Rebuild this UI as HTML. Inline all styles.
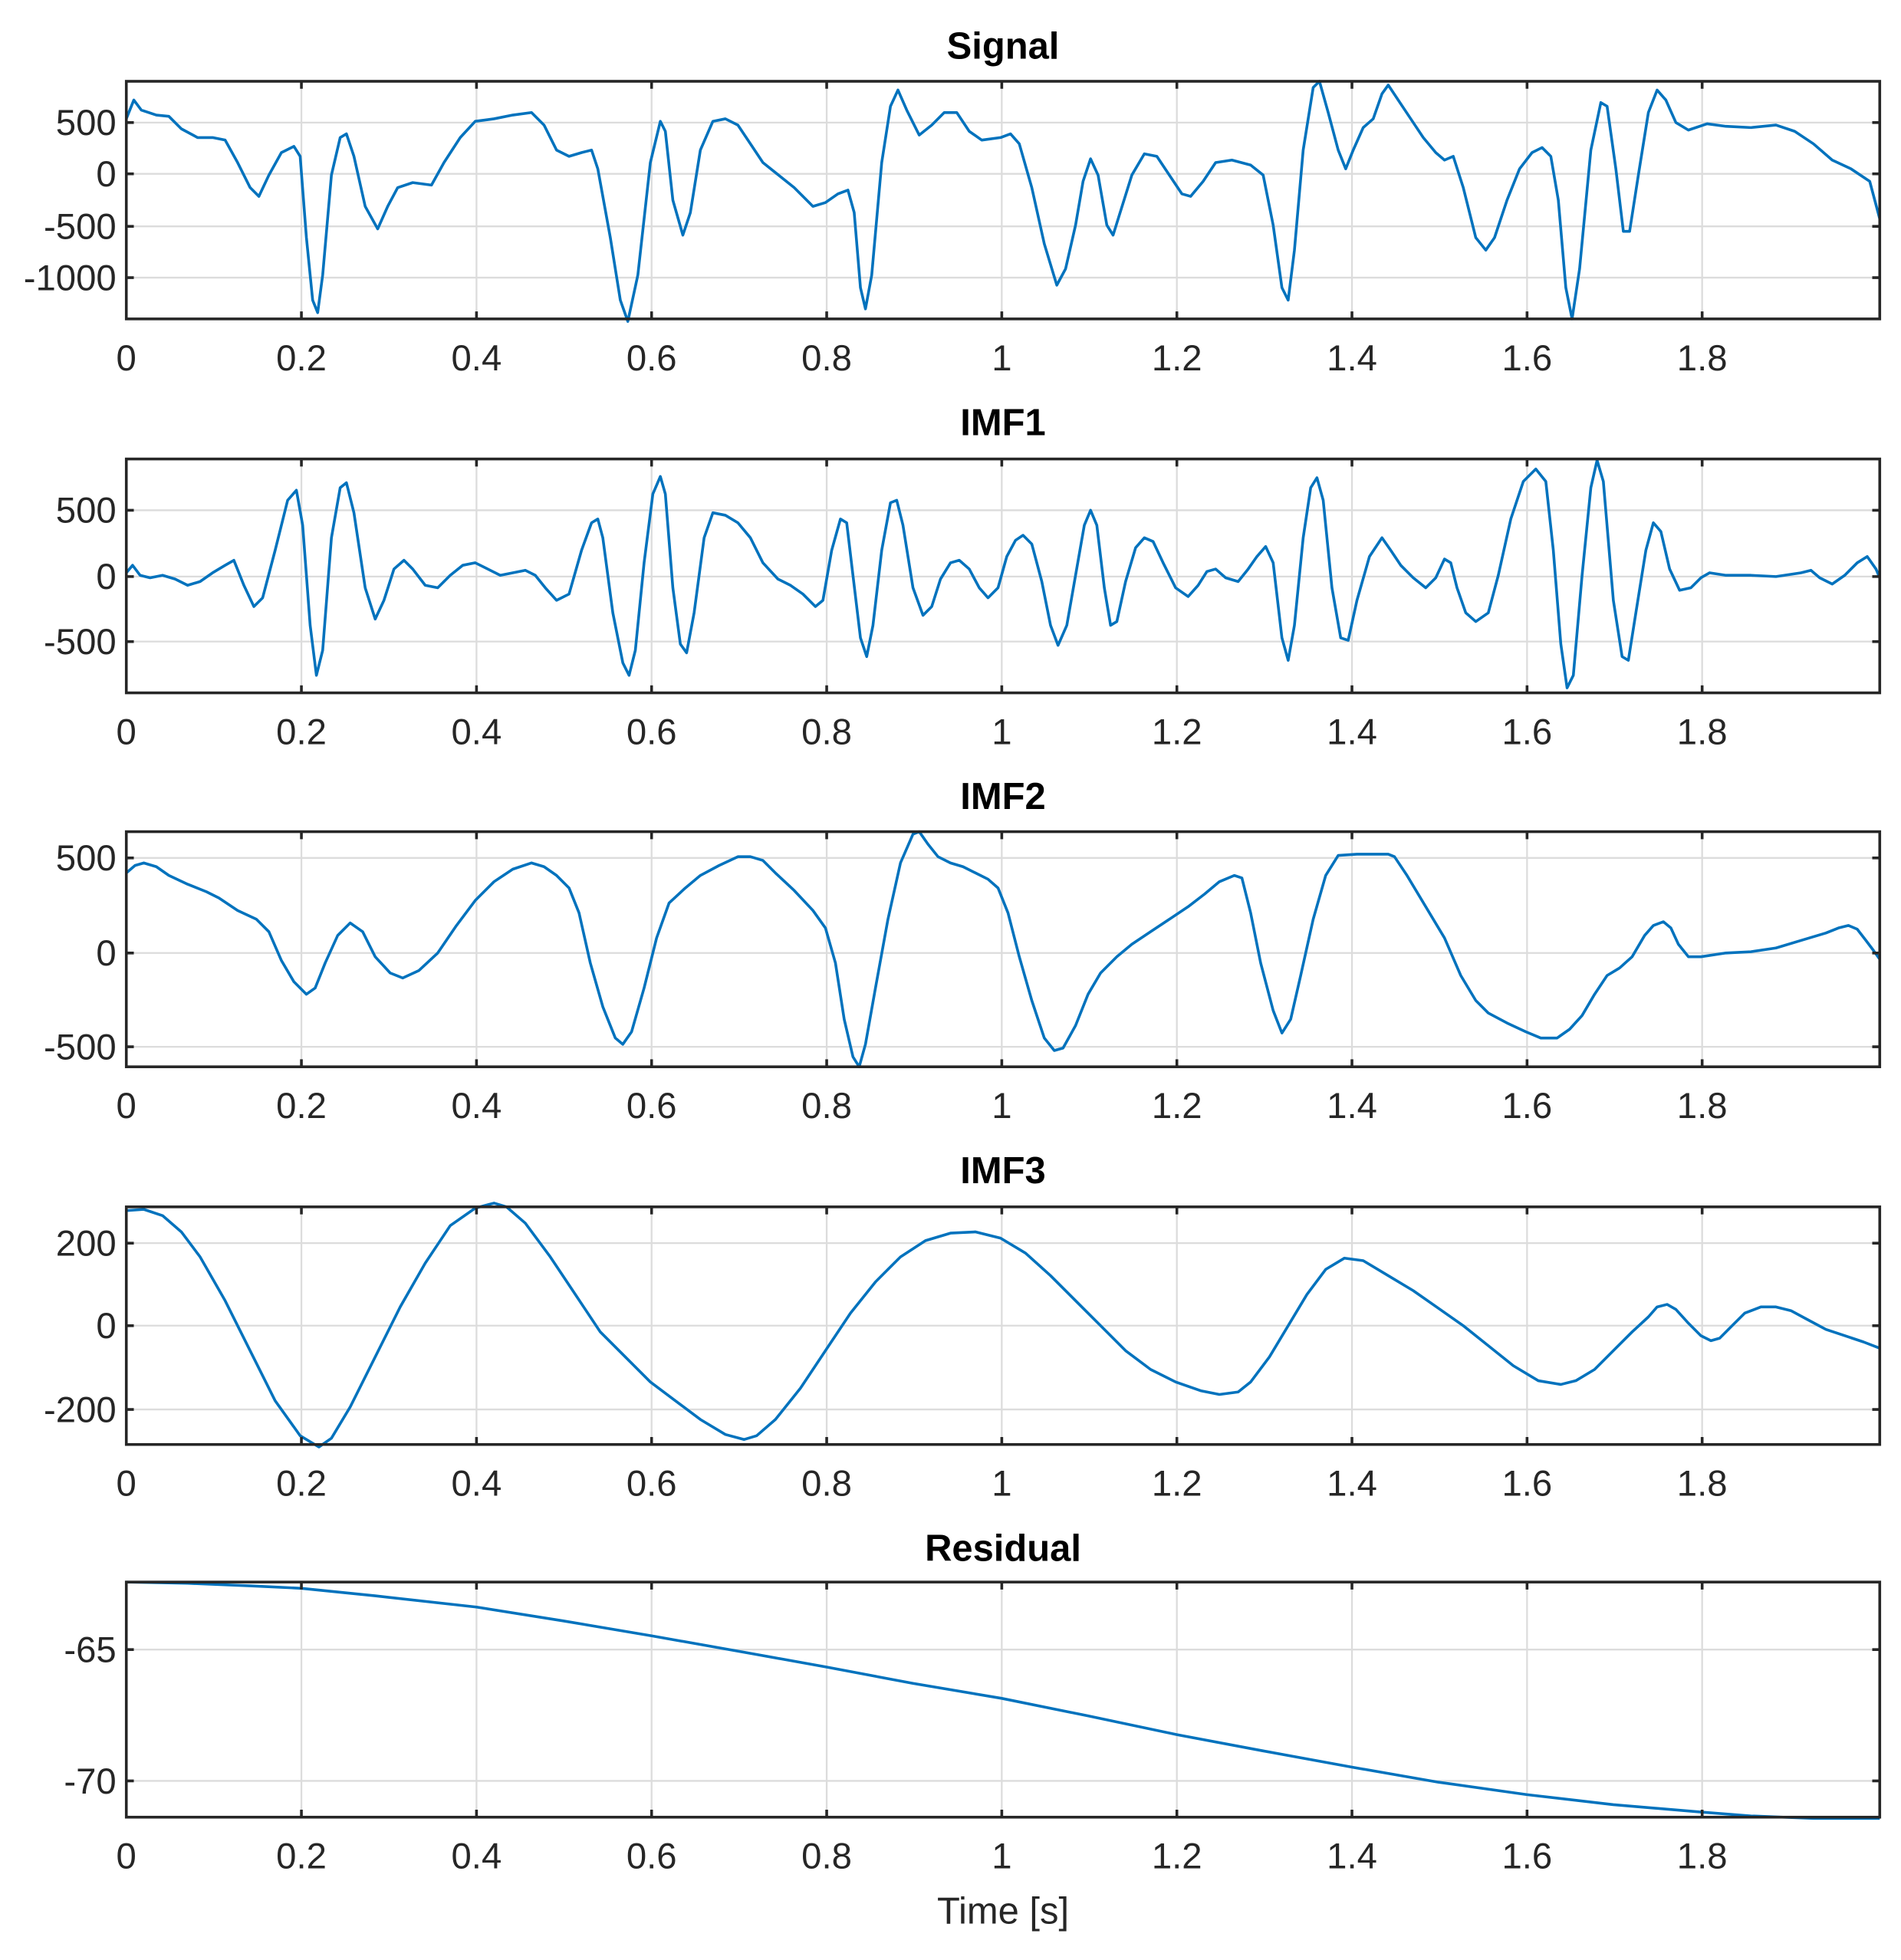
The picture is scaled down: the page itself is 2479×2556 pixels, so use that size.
<!DOCTYPE html>
<html><head><meta charset="utf-8"><style>
html,body{margin:0;padding:0;background:#fff;}
svg{display:block;}
text{font-family:"Liberation Sans",Arial,sans-serif;fill:#262626;}
.t{font-size:29px;}
.ti{font-size:30px;font-weight:bold;fill:#000;}
.g{stroke:#dcdcdc;stroke-width:1.4;fill:none;}
.ax{stroke:#262626;stroke-width:2.2;fill:none;}
.d{stroke:#0072BD;stroke-width:2.2;fill:none;stroke-linejoin:round;}
</style></head><body>
<svg width="2479" height="2556" viewBox="0 0 1520 1567.2" preserveAspectRatio="none" xmlns="http://www.w3.org/2000/svg">
<defs>
<g id="vg">
<path class="g" d="M241 0V1M381 0V1M521 0V1M661 0V1M801 0V1M941 0V1M1081 0V1M1221 0V1M1361 0V1"/>
</g>
</defs>

<!-- Panel 1 Signal -->
<text class="ti" x="802" y="47" text-anchor="middle">Signal</text>
<path class="g" d="M241 65V255M381 65V255M521 65V255M661 65V255M801 65V255M941 65V255M1081 65V255M1221 65V255M1361 65V255M101 98H1503M101 139H1503M101 181H1503M101 222H1503"/>
<polyline class="d" points="101,95 107,80 113,88 125,92 135,93 145,103 158,110 170,110 180,112 190,130 200,150 207,157 215,140 225,122 235,117 240,125 245,190 250,240 254,250 258,220 265,140 272,110 277,107 283,125 292,165 302,183 310,165 318,150 330,146 345,148 355,130 368,110 380,97 395,95 410,92 425,90 435,100 445,120 455,125 465,122 473,120 478,135 488,190 496,240 502,257 510,220 520,130 528,97 532,105 538,160 546,188 552,170 560,120 570,97 580,95 590,100 600,115 610,130 620,138 635,150 650,165 660,162 670,155 678,152 683,170 688,230 692,247 697,220 705,130 712,85 718,72 725,88 735,108 745,100 755,90 765,90 775,105 785,112 800,110 808,107 815,115 825,150 835,195 845,228 852,215 860,180 866,145 872,127 878,140 885,180 890,188 895,172 905,140 915,123 925,125 935,140 945,155 952,157 962,145 972,130 985,128 1000,132 1010,140 1018,180 1025,230 1030,240 1035,200 1042,120 1050,70 1055,65 1062,90 1070,120 1076,135 1082,120 1090,102 1098,95 1105,75 1110,68 1118,80 1128,95 1138,110 1148,122 1155,128 1162,125 1170,150 1180,190 1188,200 1195,190 1205,160 1215,135 1225,122 1233,118 1240,125 1246,160 1252,230 1257,255 1263,215 1272,120 1280,82 1285,85 1292,135 1298,185 1303,185 1310,140 1318,90 1325,72 1332,80 1340,98 1350,104 1365,99 1380,101 1400,102 1420,100 1435,105 1450,115 1465,128 1480,135 1495,145 1503,175"/>
<rect class="ax" x="101" y="65" width="1402" height="190"/>
<path class="ax" d="M241 65v6M381 65v6M521 65v6M661 65v6M801 65v6M941 65v6M1081 65v6M1221 65v6M1361 65v6M241 255v-6M381 255v-6M521 255v-6M661 255v-6M801 255v-6M941 255v-6M1081 255v-6M1221 255v-6M1361 255v-6M101 98h6M101 139h6M101 181h6M101 222h6M1503 98h-6M1503 139h-6M1503 181h-6M1503 222h-6"/>
<g class="t" text-anchor="end"><text x="93" y="108">500</text><text x="93" y="149">0</text><text x="93" y="191">-500</text><text x="93" y="232">-1000</text></g>
<g class="t" text-anchor="middle"><text x="101" y="296">0</text><text x="241" y="296">0.2</text><text x="381" y="296">0.4</text><text x="521" y="296">0.6</text><text x="661" y="296">0.8</text><text x="801" y="296">1</text><text x="941" y="296">1.2</text><text x="1081" y="296">1.4</text><text x="1221" y="296">1.6</text><text x="1361" y="296">1.8</text></g>

<!-- Panel 2 IMF1 -->
<text class="ti" x="802" y="348" text-anchor="middle">IMF1</text>
<path class="g" d="M241 367V554M381 367V554M521 367V554M661 367V554M801 367V554M941 367V554M1081 367V554M1221 367V554M1361 367V554M101 408H1503M101 461H1503M101 513H1503"/>
<polyline class="d" points="101,458 106,452 112,460 120,462 130,460 140,463 150,468 160,465 170,458 180,452 187,448 195,468 203,485 210,478 220,440 230,400 237,392 242,420 248,500 253,540 258,520 265,430 272,390 277,386 283,410 292,470 300,495 307,480 315,455 323,448 330,455 340,468 350,470 360,460 370,452 380,450 390,455 400,460 410,458 420,456 428,460 436,470 445,480 455,475 465,440 473,418 478,415 482,430 490,490 498,530 503,540 508,520 515,450 522,395 528,381 532,395 538,470 544,515 549,522 555,490 563,430 570,410 580,412 590,418 600,430 610,450 622,463 632,468 642,475 652,485 658,480 665,440 672,415 677,418 682,460 688,510 693,525 698,500 705,440 712,402 717,400 722,420 730,470 738,492 745,485 752,463 760,450 767,448 775,455 783,470 790,478 798,470 805,445 812,432 818,428 825,435 833,465 840,500 846,516 853,500 860,460 867,420 872,408 877,420 883,470 888,500 893,497 900,465 908,438 915,430 922,433 930,450 940,470 950,477 958,468 965,457 972,455 980,462 990,465 998,455 1005,445 1012,437 1018,450 1025,510 1030,528 1035,500 1042,430 1048,390 1053,382 1058,400 1065,470 1072,510 1078,512 1085,480 1095,445 1105,430 1112,440 1120,452 1130,462 1140,470 1148,462 1155,447 1160,450 1165,470 1172,490 1180,497 1190,490 1198,460 1208,415 1218,385 1228,375 1236,385 1242,440 1248,515 1253,550 1258,540 1265,460 1272,390 1277,368 1282,385 1290,480 1297,525 1302,528 1308,490 1316,440 1322,418 1328,425 1335,455 1343,472 1352,470 1360,462 1367,458 1380,460 1400,460 1420,461 1440,458 1448,456 1455,462 1465,467 1475,460 1485,450 1493,445 1500,455 1503,462"/>
<rect class="ax" x="101" y="367" width="1402" height="187"/>
<path class="ax" d="M241 367v6M381 367v6M521 367v6M661 367v6M801 367v6M941 367v6M1081 367v6M1221 367v6M1361 367v6M241 554v-6M381 554v-6M521 554v-6M661 554v-6M801 554v-6M941 554v-6M1081 554v-6M1221 554v-6M1361 554v-6M101 408h6M101 461h6M101 513h6M1503 408h-6M1503 461h-6M1503 513h-6"/>
<g class="t" text-anchor="end"><text x="93" y="418">500</text><text x="93" y="471">0</text><text x="93" y="523">-500</text></g>
<g class="t" text-anchor="middle"><text x="101" y="595">0</text><text x="241" y="595">0.2</text><text x="381" y="595">0.4</text><text x="521" y="595">0.6</text><text x="661" y="595">0.8</text><text x="801" y="595">1</text><text x="941" y="595">1.2</text><text x="1081" y="595">1.4</text><text x="1221" y="595">1.6</text><text x="1361" y="595">1.8</text></g>

<!-- Panel 3 IMF2 -->
<text class="ti" x="802" y="647" text-anchor="middle">IMF2</text>
<path class="g" d="M241 665V853M381 665V853M521 665V853M661 665V853M801 665V853M941 665V853M1081 665V853M1221 665V853M1361 665V853M101 686H1503M101 762H1503M101 837H1503"/>
<polyline class="d" points="101,698 108,692 115,690 125,693 135,700 150,707 165,713 175,718 190,728 205,735 215,745 225,768 235,785 245,795 252,790 260,770 270,748 280,738 290,745 300,765 312,778 322,782 335,776 350,762 365,740 380,720 395,705 410,695 425,690 435,693 445,700 455,710 463,730 472,770 482,805 492,830 498,835 505,825 515,790 525,750 535,722 548,710 560,700 575,692 590,685 600,685 610,688 620,698 635,712 650,728 660,742 668,770 675,815 682,845 687,853 692,835 700,790 710,735 720,690 730,667 735,665 742,675 750,685 760,690 770,693 780,698 790,703 798,710 806,730 815,765 825,800 835,830 843,840 850,838 860,820 870,795 880,778 893,765 905,755 920,745 935,735 950,725 963,715 975,705 987,700 993,702 1000,730 1008,770 1018,808 1025,826 1032,815 1040,780 1050,735 1060,700 1070,684 1085,683 1100,683 1110,683 1115,685 1125,700 1140,725 1155,750 1168,780 1180,800 1190,810 1205,818 1220,825 1232,830 1245,830 1255,823 1265,812 1275,795 1285,780 1295,774 1305,765 1315,748 1322,740 1330,737 1336,742 1342,755 1350,765 1360,765 1380,762 1400,761 1420,758 1440,752 1460,746 1470,742 1478,740 1485,743 1492,752 1498,760 1503,767"/>
<rect class="ax" x="101" y="665" width="1402" height="188"/>
<path class="ax" d="M241 665v6M381 665v6M521 665v6M661 665v6M801 665v6M941 665v6M1081 665v6M1221 665v6M1361 665v6M241 853v-6M381 853v-6M521 853v-6M661 853v-6M801 853v-6M941 853v-6M1081 853v-6M1221 853v-6M1361 853v-6M101 686h6M101 762h6M101 837h6M1503 686h-6M1503 762h-6M1503 837h-6"/>
<g class="t" text-anchor="end"><text x="93" y="696">500</text><text x="93" y="772">0</text><text x="93" y="847">-500</text></g>
<g class="t" text-anchor="middle"><text x="101" y="894">0</text><text x="241" y="894">0.2</text><text x="381" y="894">0.4</text><text x="521" y="894">0.6</text><text x="661" y="894">0.8</text><text x="801" y="894">1</text><text x="941" y="894">1.2</text><text x="1081" y="894">1.4</text><text x="1221" y="894">1.6</text><text x="1361" y="894">1.8</text></g>

<!-- Panel 4 IMF3 -->
<text class="ti" x="802" y="946" text-anchor="middle">IMF3</text>
<path class="g" d="M241 965V1155M381 965V1155M521 965V1155M661 965V1155M801 965V1155M941 965V1155M1081 965V1155M1221 965V1155M1361 965V1155M101 994H1503M101 1060H1503M101 1127H1503"/>
<polyline class="d" points="101,968 115,967 130,972 145,985 160,1005 180,1040 200,1080 220,1120 240,1148 255,1157 265,1150 280,1125 300,1085 320,1045 340,1010 360,980 380,966 395,962 405,965 420,978 440,1005 460,1035 480,1065 500,1085 520,1105 540,1120 560,1135 580,1147 595,1151 605,1148 620,1135 640,1110 660,1080 680,1050 700,1025 720,1005 740,992 760,986 780,985 800,990 820,1002 840,1020 860,1040 880,1060 900,1080 920,1095 940,1105 960,1112 975,1115 990,1113 1000,1105 1015,1085 1030,1060 1045,1035 1060,1015 1075,1006 1090,1008 1110,1020 1130,1032 1150,1046 1170,1060 1190,1076 1210,1092 1230,1104 1248,1107 1260,1104 1275,1095 1290,1080 1305,1065 1318,1053 1325,1045 1333,1043 1340,1047 1350,1058 1360,1068 1368,1072 1375,1070 1385,1060 1395,1050 1408,1045 1420,1045 1432,1048 1445,1055 1460,1063 1475,1068 1490,1073 1503,1078"/>
<rect class="ax" x="101" y="965" width="1402" height="190"/>
<path class="ax" d="M241 965v6M381 965v6M521 965v6M661 965v6M801 965v6M941 965v6M1081 965v6M1221 965v6M1361 965v6M241 1155v-6M381 1155v-6M521 1155v-6M661 1155v-6M801 1155v-6M941 1155v-6M1081 1155v-6M1221 1155v-6M1361 1155v-6M101 994h6M101 1060h6M101 1127h6M1503 994h-6M1503 1060h-6M1503 1127h-6"/>
<g class="t" text-anchor="end"><text x="93" y="1004">200</text><text x="93" y="1070">0</text><text x="93" y="1137">-200</text></g>
<g class="t" text-anchor="middle"><text x="101" y="1196">0</text><text x="241" y="1196">0.2</text><text x="381" y="1196">0.4</text><text x="521" y="1196">0.6</text><text x="661" y="1196">0.8</text><text x="801" y="1196">1</text><text x="941" y="1196">1.2</text><text x="1081" y="1196">1.4</text><text x="1221" y="1196">1.6</text><text x="1361" y="1196">1.8</text></g>

<!-- Panel 5 Residual -->
<text class="ti" x="802" y="1248" text-anchor="middle">Residual</text>
<path class="g" d="M241 1265V1453M381 1265V1453M521 1265V1453M661 1265V1453M801 1265V1453M941 1265V1453M1081 1265V1453M1221 1265V1453M1361 1265V1453M101 1319H1503M101 1424H1503"/>
<polyline class="d" points="101,1265 150,1266 200,1268 241,1270 300,1276 381,1285 450,1296 521,1308 600,1322 661,1333 730,1346 801,1358 870,1372 941,1387 1010,1400 1081,1413 1150,1425 1221,1435 1290,1443 1361,1449 1400,1452 1450,1454 1503,1454"/>
<rect class="ax" x="101" y="1265" width="1402" height="188"/>
<path class="ax" d="M241 1265v6M381 1265v6M521 1265v6M661 1265v6M801 1265v6M941 1265v6M1081 1265v6M1221 1265v6M1361 1265v6M241 1453v-6M381 1453v-6M521 1453v-6M661 1453v-6M801 1453v-6M941 1453v-6M1081 1453v-6M1221 1453v-6M1361 1453v-6M101 1319h6M101 1424h6M1503 1319h-6M1503 1424h-6"/>
<g class="t" text-anchor="end"><text x="93" y="1329">-65</text><text x="93" y="1434">-70</text></g>
<g class="t" text-anchor="middle"><text x="101" y="1494">0</text><text x="241" y="1494">0.2</text><text x="381" y="1494">0.4</text><text x="521" y="1494">0.6</text><text x="661" y="1494">0.8</text><text x="801" y="1494">1</text><text x="941" y="1494">1.2</text><text x="1081" y="1494">1.4</text><text x="1221" y="1494">1.6</text><text x="1361" y="1494">1.8</text></g>
<text class="t" x="802" y="1538" text-anchor="middle" style="font-size:30px">Time [s]</text>
</svg>
</body></html>
